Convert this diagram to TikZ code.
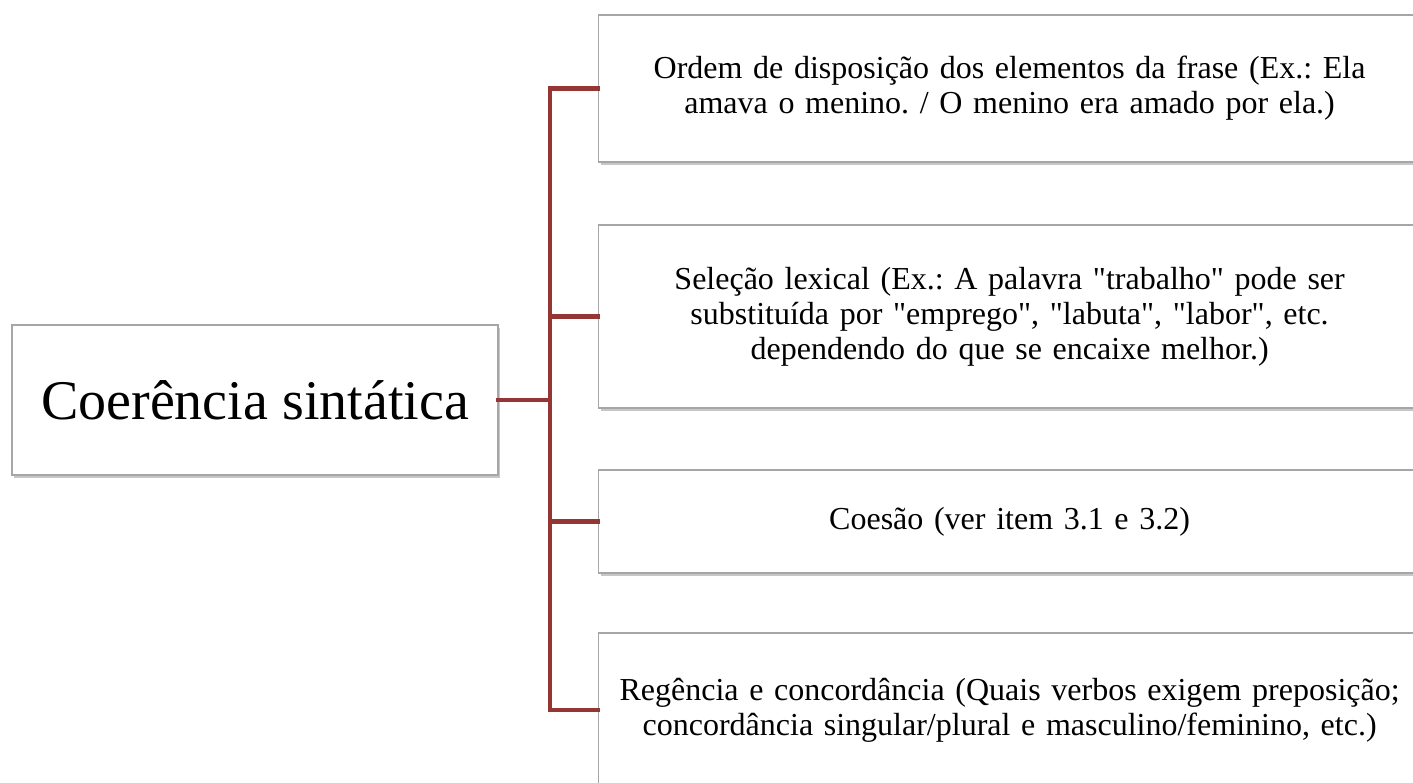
\documentclass[tikz,border=0pt]{standalone}
\usepackage{fontspec}
\setmainfont{Liberation Serif}[Ligatures=TeXOff]
\usetikzlibrary{shadows}
\definecolor{connred}{HTML}{943634}
\definecolor{boxline}{HTML}{A6A6A6}
\tikzset{
  box/.style={draw=boxline, line width=1.2pt, fill=white, rectangle, align=center, inner sep=0pt,
    drop shadow={shadow xshift=2pt, shadow yshift=-3pt, opacity=0.4, fill=black!55}},
  leaf/.style={box, anchor=west, minimum width=822pt, text width=810pt,
    font=\fontsize{32}{35}\selectfont},
  conn/.style={draw=connred, line width=4.5pt, line join=miter, line cap=rect}
}
\begin{document}
\frenchspacing
\begin{tikzpicture}[x=1pt,y=-1pt]
\useasboundingbox (0,0) rectangle (1413,782);
\clip (0,0) rectangle (1413,782);
\node[box, minimum width=486pt, minimum height=150pt, font=\fontsize{56}{64}\selectfont] (root) at (255,400) {Coerência sintática};
\node[leaf, minimum height=147pt] (b1) at (598,88.5) {Ordem de disposição dos elementos da frase (Ex.: Ela\\amava o menino. / O menino era amado por ela.)};
\node[leaf, minimum height=183pt] (b2) at (598,316.5) {Seleção lexical (Ex.: A palavra "trabalho" pode ser\\substituída por "emprego", "labuta", "labor", etc.\\dependendo do que se encaixe melhor.)};
\node[leaf, minimum height=103pt] (b3) at (598,521.5) {Coesão (ver item 3.1 e 3.2)};
\node[leaf, minimum height=154pt] (b4) at (598,710) {Regência e concordância (Quais verbos exigem preposição;\\concordância singular/plural e masculino/feminino, etc.)};
\coordinate (trunk) at (550,0);
\draw[conn] (b1.west) -- (b1.west -| trunk) -- (b4.west -| trunk) -- (b4.west);
\draw[conn] (b2.west) -- (b2.west -| trunk);
\draw[conn] (b3.west) -- (b3.west -| trunk);
\draw[conn] (root.east) -- (root.east -| trunk);
\end{tikzpicture}
\end{document}
